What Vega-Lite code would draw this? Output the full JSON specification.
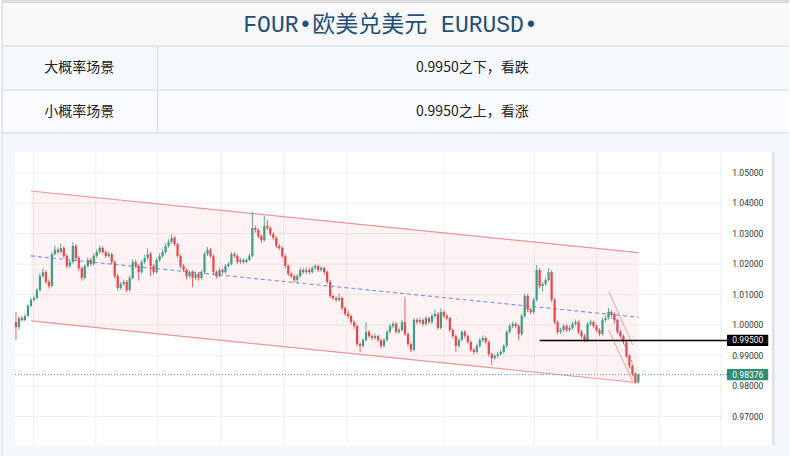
{
  "$schema": "https://vega.github.io/schema/vega-lite/v6.json",
  "width": 790,
  "height": 456,
  "autosize": {"type": "fit", "contains": "padding"},
  "padding": 0,
  "background": "#ffffff",
  "config": {"view": {"stroke": null}, "font": "Roboto"},
  "datasets": {
    "candles": [
      {"i":0,"o":1.0010,"h":1.0043,"l":0.9951,"c":0.9994},
      {"i":1,"o":0.9994,"h":1.0030,"l":0.9985,"c":1.0023},
      {"i":2,"o":1.0023,"h":1.0031,"l":1.0010,"c":1.0017},
      {"i":3,"o":1.0017,"h":1.0036,"l":1.0012,"c":1.0030},
      {"i":4,"o":1.0030,"h":1.0069,"l":1.0026,"c":1.0063},
      {"i":5,"o":1.0063,"h":1.0090,"l":1.0058,"c":1.0083},
      {"i":6,"o":1.0083,"h":1.0097,"l":1.0077,"c":1.0089},
      {"i":7,"o":1.0089,"h":1.0122,"l":1.0084,"c":1.0115},
      {"i":8,"o":1.0115,"h":1.0170,"l":1.0110,"c":1.0161},
      {"i":9,"o":1.0161,"h":1.0186,"l":1.0155,"c":1.0174},
      {"i":10,"o":1.0174,"h":1.0180,"l":1.0135,"c":1.0142},
      {"i":11,"o":1.0142,"h":1.0150,"l":1.0120,"c":1.0128},
      {"i":12,"o":1.0128,"h":1.0240,"l":1.0124,"c":1.0233},
      {"i":13,"o":1.0233,"h":1.0262,"l":1.0228,"c":1.0247},
      {"i":14,"o":1.0247,"h":1.0255,"l":1.0232,"c":1.0240},
      {"i":15,"o":1.0240,"h":1.0268,"l":1.0235,"c":1.0253},
      {"i":16,"o":1.0253,"h":1.0259,"l":1.0220,"c":1.0227},
      {"i":17,"o":1.0227,"h":1.0233,"l":1.0186,"c":1.0194},
      {"i":18,"o":1.0194,"h":1.0215,"l":1.0188,"c":1.0207},
      {"i":19,"o":1.0207,"h":1.0272,"l":1.0202,"c":1.0260},
      {"i":20,"o":1.0260,"h":1.0266,"l":1.0212,"c":1.0220},
      {"i":21,"o":1.0220,"h":1.0226,"l":1.0178,"c":1.0187},
      {"i":22,"o":1.0187,"h":1.0192,"l":1.0146,"c":1.0155},
      {"i":23,"o":1.0155,"h":1.0200,"l":1.0150,"c":1.0194},
      {"i":24,"o":1.0194,"h":1.0222,"l":1.0189,"c":1.0214},
      {"i":25,"o":1.0214,"h":1.0220,"l":1.0194,"c":1.0201},
      {"i":26,"o":1.0201,"h":1.0235,"l":1.0196,"c":1.0227},
      {"i":27,"o":1.0227,"h":1.0248,"l":1.0220,"c":1.0240},
      {"i":28,"o":1.0240,"h":1.0262,"l":1.0234,"c":1.0253},
      {"i":29,"o":1.0253,"h":1.0259,"l":1.0233,"c":1.0240},
      {"i":30,"o":1.0240,"h":1.0246,"l":1.0220,"c":1.0227},
      {"i":31,"o":1.0227,"h":1.0241,"l":1.0221,"c":1.0233},
      {"i":32,"o":1.0233,"h":1.0238,"l":1.0200,"c":1.0207},
      {"i":33,"o":1.0207,"h":1.0212,"l":1.0152,"c":1.0161},
      {"i":34,"o":1.0161,"h":1.0168,"l":1.0114,"c":1.0122},
      {"i":35,"o":1.0122,"h":1.0142,"l":1.0116,"c":1.0135},
      {"i":36,"o":1.0135,"h":1.0150,"l":1.0128,"c":1.0142},
      {"i":37,"o":1.0142,"h":1.0148,"l":1.0108,"c":1.0115},
      {"i":38,"o":1.0115,"h":1.0162,"l":1.0110,"c":1.0155},
      {"i":39,"o":1.0155,"h":1.0216,"l":1.0150,"c":1.0207},
      {"i":40,"o":1.0207,"h":1.0214,"l":1.0187,"c":1.0194},
      {"i":41,"o":1.0194,"h":1.0200,"l":1.0146,"c":1.0174},
      {"i":42,"o":1.0174,"h":1.0214,"l":1.0168,"c":1.0207},
      {"i":43,"o":1.0207,"h":1.0230,"l":1.0201,"c":1.0220},
      {"i":44,"o":1.0220,"h":1.0252,"l":1.0214,"c":1.0233},
      {"i":45,"o":1.0233,"h":1.0240,"l":1.0160,"c":1.0194},
      {"i":46,"o":1.0194,"h":1.0200,"l":1.0166,"c":1.0174},
      {"i":47,"o":1.0174,"h":1.0221,"l":1.0169,"c":1.0214},
      {"i":48,"o":1.0214,"h":1.0236,"l":1.0208,"c":1.0227},
      {"i":49,"o":1.0227,"h":1.0249,"l":1.0220,"c":1.0240},
      {"i":50,"o":1.0240,"h":1.0268,"l":1.0235,"c":1.0260},
      {"i":51,"o":1.0260,"h":1.0282,"l":1.0254,"c":1.0273},
      {"i":52,"o":1.0273,"h":1.0298,"l":1.0268,"c":1.0286},
      {"i":53,"o":1.0286,"h":1.0292,"l":1.0260,"c":1.0266},
      {"i":54,"o":1.0266,"h":1.0271,"l":1.0220,"c":1.0227},
      {"i":55,"o":1.0227,"h":1.0232,"l":1.0185,"c":1.0194},
      {"i":56,"o":1.0194,"h":1.0200,"l":1.0174,"c":1.0181},
      {"i":57,"o":1.0181,"h":1.0186,"l":1.0150,"c":1.0161},
      {"i":58,"o":1.0161,"h":1.0180,"l":1.0155,"c":1.0174},
      {"i":59,"o":1.0174,"h":1.0180,"l":1.0124,"c":1.0155},
      {"i":60,"o":1.0155,"h":1.0176,"l":1.0148,"c":1.0168},
      {"i":61,"o":1.0168,"h":1.0174,"l":1.0146,"c":1.0155},
      {"i":62,"o":1.0155,"h":1.0181,"l":1.0150,"c":1.0174},
      {"i":63,"o":1.0174,"h":1.0240,"l":1.0168,"c":1.0233},
      {"i":64,"o":1.0233,"h":1.0256,"l":1.0227,"c":1.0247},
      {"i":65,"o":1.0247,"h":1.0253,"l":1.0220,"c":1.0227},
      {"i":66,"o":1.0227,"h":1.0232,"l":1.0166,"c":1.0174},
      {"i":67,"o":1.0174,"h":1.0180,"l":1.0153,"c":1.0161},
      {"i":68,"o":1.0161,"h":1.0188,"l":1.0156,"c":1.0181},
      {"i":69,"o":1.0181,"h":1.0187,"l":1.0167,"c":1.0174},
      {"i":70,"o":1.0174,"h":1.0200,"l":1.0169,"c":1.0194},
      {"i":71,"o":1.0194,"h":1.0208,"l":1.0189,"c":1.0201},
      {"i":72,"o":1.0201,"h":1.0240,"l":1.0196,"c":1.0233},
      {"i":73,"o":1.0233,"h":1.0239,"l":1.0220,"c":1.0227},
      {"i":74,"o":1.0227,"h":1.0232,"l":1.0200,"c":1.0207},
      {"i":75,"o":1.0207,"h":1.0221,"l":1.0201,"c":1.0214},
      {"i":76,"o":1.0214,"h":1.0219,"l":1.0202,"c":1.0207},
      {"i":77,"o":1.0207,"h":1.0220,"l":1.0203,"c":1.0214},
      {"i":78,"o":1.0214,"h":1.0234,"l":1.0210,"c":1.0227},
      {"i":79,"o":1.0227,"h":1.0371,"l":1.0222,"c":1.0319},
      {"i":80,"o":1.0319,"h":1.0326,"l":1.0304,"c":1.0312},
      {"i":81,"o":1.0312,"h":1.0317,"l":1.0285,"c":1.0292},
      {"i":82,"o":1.0292,"h":1.0298,"l":1.0270,"c":1.0279},
      {"i":83,"o":1.0279,"h":1.0358,"l":1.0274,"c":1.0325},
      {"i":84,"o":1.0325,"h":1.0345,"l":1.0312,"c":1.0319},
      {"i":85,"o":1.0319,"h":1.0324,"l":1.0292,"c":1.0299},
      {"i":86,"o":1.0299,"h":1.0305,"l":1.0279,"c":1.0286},
      {"i":87,"o":1.0286,"h":1.0291,"l":1.0253,"c":1.0260},
      {"i":88,"o":1.0260,"h":1.0266,"l":1.0246,"c":1.0253},
      {"i":89,"o":1.0253,"h":1.0258,"l":1.0220,"c":1.0227},
      {"i":90,"o":1.0227,"h":1.0232,"l":1.0186,"c":1.0194},
      {"i":91,"o":1.0194,"h":1.0199,"l":1.0160,"c":1.0168},
      {"i":92,"o":1.0168,"h":1.0175,"l":1.0154,"c":1.0161},
      {"i":93,"o":1.0161,"h":1.0166,"l":1.0140,"c":1.0148},
      {"i":94,"o":1.0148,"h":1.0168,"l":1.0142,"c":1.0161},
      {"i":95,"o":1.0161,"h":1.0188,"l":1.0156,"c":1.0181},
      {"i":96,"o":1.0181,"h":1.0187,"l":1.0168,"c":1.0174},
      {"i":97,"o":1.0174,"h":1.0190,"l":1.0168,"c":1.0181},
      {"i":98,"o":1.0181,"h":1.0188,"l":1.0167,"c":1.0174},
      {"i":99,"o":1.0174,"h":1.0195,"l":1.0169,"c":1.0187},
      {"i":100,"o":1.0187,"h":1.0201,"l":1.0181,"c":1.0194},
      {"i":101,"o":1.0194,"h":1.0199,"l":1.0174,"c":1.0181},
      {"i":102,"o":1.0181,"h":1.0194,"l":1.0175,"c":1.0187},
      {"i":103,"o":1.0187,"h":1.0192,"l":1.0167,"c":1.0174},
      {"i":104,"o":1.0174,"h":1.0180,"l":1.0135,"c":1.0142},
      {"i":105,"o":1.0142,"h":1.0148,"l":1.0089,"c":1.0096},
      {"i":106,"o":1.0096,"h":1.0101,"l":1.0082,"c":1.0089},
      {"i":107,"o":1.0089,"h":1.0094,"l":1.0076,"c":1.0083},
      {"i":108,"o":1.0083,"h":1.0104,"l":1.0078,"c":1.0089},
      {"i":109,"o":1.0089,"h":1.0094,"l":1.0049,"c":1.0056},
      {"i":110,"o":1.0056,"h":1.0061,"l":1.0030,"c":1.0037},
      {"i":111,"o":1.0037,"h":1.0048,"l":1.0022,"c":1.0030},
      {"i":112,"o":1.0030,"h":1.0035,"l":1.0002,"c":1.0010},
      {"i":113,"o":1.0010,"h":1.0016,"l":0.9988,"c":0.9997},
      {"i":114,"o":0.9997,"h":1.0002,"l":0.9930,"c":0.9938},
      {"i":115,"o":0.9938,"h":0.9944,"l":0.9912,"c":0.9932},
      {"i":116,"o":0.9932,"h":0.9958,"l":0.9926,"c":0.9951},
      {"i":117,"o":0.9951,"h":1.0010,"l":0.9946,"c":0.9978},
      {"i":118,"o":0.9978,"h":0.9984,"l":0.9958,"c":0.9964},
      {"i":119,"o":0.9964,"h":0.9970,"l":0.9950,"c":0.9958},
      {"i":120,"o":0.9958,"h":0.9972,"l":0.9952,"c":0.9964},
      {"i":121,"o":0.9964,"h":0.9969,"l":0.9944,"c":0.9951},
      {"i":122,"o":0.9951,"h":0.9956,"l":0.9924,"c":0.9932},
      {"i":123,"o":0.9932,"h":0.9958,"l":0.9926,"c":0.9951},
      {"i":124,"o":0.9951,"h":0.9985,"l":0.9946,"c":0.9978},
      {"i":125,"o":0.9978,"h":1.0004,"l":0.9972,"c":0.9997},
      {"i":126,"o":0.9997,"h":1.0012,"l":0.9990,"c":1.0004},
      {"i":127,"o":1.0004,"h":1.0010,"l":0.9971,"c":0.9978},
      {"i":128,"o":0.9978,"h":0.9992,"l":0.9972,"c":0.9984},
      {"i":129,"o":0.9984,"h":1.0018,"l":0.9979,"c":1.0010},
      {"i":130,"o":1.0010,"h":1.0092,"l":0.9964,"c":0.9971},
      {"i":131,"o":0.9971,"h":0.9976,"l":0.9930,"c":0.9938},
      {"i":132,"o":0.9938,"h":0.9944,"l":0.9912,"c":0.9919},
      {"i":133,"o":0.9919,"h":1.0024,"l":0.9914,"c":1.0017},
      {"i":134,"o":1.0017,"h":1.0024,"l":1.0003,"c":1.0010},
      {"i":135,"o":1.0010,"h":1.0025,"l":1.0004,"c":1.0017},
      {"i":136,"o":1.0017,"h":1.0022,"l":0.9997,"c":1.0004},
      {"i":137,"o":1.0004,"h":1.0030,"l":0.9998,"c":1.0023},
      {"i":138,"o":1.0023,"h":1.0028,"l":1.0003,"c":1.0010},
      {"i":139,"o":1.0010,"h":1.0038,"l":1.0004,"c":1.0030},
      {"i":140,"o":1.0030,"h":1.0050,"l":1.0024,"c":1.0037},
      {"i":141,"o":1.0037,"h":1.0043,"l":0.9984,"c":0.9991},
      {"i":142,"o":0.9991,"h":1.0056,"l":0.9986,"c":1.0043},
      {"i":143,"o":1.0043,"h":1.0049,"l":1.0023,"c":1.0030},
      {"i":144,"o":1.0030,"h":1.0036,"l":1.0016,"c":1.0023},
      {"i":145,"o":1.0023,"h":1.0028,"l":0.9977,"c":0.9984},
      {"i":146,"o":0.9984,"h":0.9990,"l":0.9957,"c":0.9964},
      {"i":147,"o":0.9964,"h":0.9970,"l":0.9912,"c":0.9932},
      {"i":148,"o":0.9932,"h":0.9958,"l":0.9926,"c":0.9951},
      {"i":149,"o":0.9951,"h":0.9985,"l":0.9946,"c":0.9978},
      {"i":150,"o":0.9978,"h":0.9984,"l":0.9957,"c":0.9964},
      {"i":151,"o":0.9964,"h":0.9970,"l":0.9938,"c":0.9945},
      {"i":152,"o":0.9945,"h":0.9950,"l":0.9912,"c":0.9919},
      {"i":153,"o":0.9919,"h":0.9925,"l":0.9904,"c":0.9912},
      {"i":154,"o":0.9912,"h":0.9939,"l":0.9906,"c":0.9932},
      {"i":155,"o":0.9932,"h":0.9958,"l":0.9926,"c":0.9951},
      {"i":156,"o":0.9951,"h":0.9966,"l":0.9944,"c":0.9958},
      {"i":157,"o":0.9958,"h":0.9963,"l":0.9938,"c":0.9945},
      {"i":158,"o":0.9945,"h":0.9950,"l":0.9898,"c":0.9905},
      {"i":159,"o":0.9905,"h":0.9910,"l":0.9870,"c":0.9892},
      {"i":160,"o":0.9892,"h":0.9906,"l":0.9886,"c":0.9899},
      {"i":161,"o":0.9899,"h":0.9912,"l":0.9892,"c":0.9905},
      {"i":162,"o":0.9905,"h":0.9920,"l":0.9899,"c":0.9912},
      {"i":163,"o":0.9912,"h":0.9938,"l":0.9906,"c":0.9932},
      {"i":164,"o":0.9932,"h":0.9985,"l":0.9926,"c":0.9978},
      {"i":165,"o":0.9978,"h":1.0004,"l":0.9972,"c":0.9997},
      {"i":166,"o":0.9997,"h":1.0012,"l":0.9990,"c":1.0004},
      {"i":167,"o":1.0004,"h":1.0010,"l":0.9990,"c":0.9997},
      {"i":168,"o":0.9997,"h":1.0003,"l":0.9950,"c":0.9971},
      {"i":169,"o":0.9971,"h":1.0037,"l":0.9966,"c":1.0030},
      {"i":170,"o":1.0030,"h":1.0104,"l":1.0024,"c":1.0096},
      {"i":171,"o":1.0096,"h":1.0102,"l":1.0043,"c":1.0050},
      {"i":172,"o":1.0050,"h":1.0056,"l":1.0036,"c":1.0043},
      {"i":173,"o":1.0043,"h":1.0090,"l":1.0037,"c":1.0083},
      {"i":174,"o":1.0083,"h":1.0197,"l":1.0078,"c":1.0181},
      {"i":175,"o":1.0181,"h":1.0187,"l":1.0120,"c":1.0128},
      {"i":176,"o":1.0128,"h":1.0142,"l":1.0110,"c":1.0135},
      {"i":177,"o":1.0135,"h":1.0156,"l":1.0128,"c":1.0148},
      {"i":178,"o":1.0148,"h":1.0187,"l":1.0142,"c":1.0174},
      {"i":179,"o":1.0174,"h":1.0180,"l":1.0076,"c":1.0083},
      {"i":180,"o":1.0083,"h":1.0088,"l":1.0002,"c":1.0010},
      {"i":181,"o":1.0010,"h":1.0015,"l":0.9970,"c":0.9978},
      {"i":182,"o":0.9978,"h":0.9992,"l":0.9971,"c":0.9984},
      {"i":183,"o":0.9984,"h":1.0004,"l":0.9978,"c":0.9997},
      {"i":184,"o":0.9997,"h":1.0003,"l":0.9977,"c":0.9984},
      {"i":185,"o":0.9984,"h":0.9998,"l":0.9978,"c":0.9991},
      {"i":186,"o":0.9991,"h":1.0012,"l":0.9985,"c":1.0004},
      {"i":187,"o":1.0004,"h":1.0018,"l":0.9998,"c":1.0010},
      {"i":188,"o":1.0010,"h":1.0015,"l":0.9971,"c":0.9978},
      {"i":189,"o":0.9978,"h":0.9984,"l":0.9956,"c":0.9964},
      {"i":190,"o":0.9964,"h":0.9970,"l":0.9944,"c":0.9951},
      {"i":191,"o":0.9951,"h":1.0010,"l":0.9946,"c":1.0004},
      {"i":192,"o":1.0004,"h":1.0018,"l":0.9998,"c":1.0010},
      {"i":193,"o":1.0010,"h":1.0015,"l":0.9990,"c":0.9997},
      {"i":194,"o":0.9997,"h":1.0003,"l":0.9977,"c":0.9984},
      {"i":195,"o":0.9984,"h":0.9990,"l":0.9964,"c":0.9971},
      {"i":196,"o":0.9971,"h":1.0024,"l":0.9966,"c":1.0017},
      {"i":197,"o":1.0017,"h":1.0032,"l":1.0011,"c":1.0023},
      {"i":198,"o":1.0023,"h":1.0056,"l":1.0018,"c":1.0043},
      {"i":199,"o":1.0043,"h":1.0049,"l":1.0030,"c":1.0037},
      {"i":200,"o":1.0037,"h":1.0042,"l":1.0010,"c":1.0017},
      {"i":201,"o":1.0017,"h":1.0022,"l":0.9971,"c":0.9978},
      {"i":202,"o":0.9978,"h":0.9984,"l":0.9957,"c":0.9964},
      {"i":203,"o":0.9964,"h":0.9970,"l":0.9938,"c":0.9945},
      {"i":204,"o":0.9945,"h":0.9950,"l":0.9892,"c":0.9899},
      {"i":205,"o":0.9899,"h":0.9904,"l":0.9858,"c":0.9866},
      {"i":206,"o":0.9866,"h":0.9872,"l":0.9832,"c":0.9840},
      {"i":207,"o":0.9840,"h":0.9846,"l":0.9807,"c":0.9814},
      {"i":208,"o":0.9814,"h":0.9842,"l":0.9809,"c":0.98376}
    ],
    "channel": [
      {"i":5,"up":1.0440,"mid":1.0227,"lo":1.0014},
      {"i":208,"up":1.0238,"mid":1.0026,"lo":0.9811}
    ],
    "steep": [
      {"i":198.1,"up":1.0110,"mid":1.0047,"lo":0.9984},
      {"i":206.1,"up":0.9935,"mid":0.9875,"lo":0.9815}
    ],
    "yticks": [
      {"v":1.05,"t":"1.05000"},{"v":1.04,"t":"1.04000"},{"v":1.03,"t":"1.03000"},
      {"v":1.02,"t":"1.02000"},{"v":1.01,"t":"1.01000"},{"v":1.00,"t":"1.00000"},
      {"v":0.99,"t":"0.99000"},{"v":0.98,"t":"0.98000"},{"v":0.97,"t":"0.97000"}
    ],
    "xticks": [
      {"i":5.9},{"i":26.67},{"i":47.43},{"i":68.43},{"i":89.43},{"i":110.57},
      {"i":143.1},{"i":173.23},{"i":194.1},{"i":215.1},{"i":235.57}
    ]
  },
  "layer": [
    {
      "layer": [
        {
          "data": {"values": [{}]},
          "mark": {"type": "rect", "fill": "#f4f7fc"},
          "encoding": {
            "x": {"datum": 0, "type": "quantitative", "scale": {"domain": [0, 790], "nice": false, "zero": false, "padding": 0}, "axis": null},
            "x2": {"datum": 790},
            "y": {"datum": 133, "type": "quantitative", "scale": {"domain": [0, 456], "reverse": true, "nice": false, "zero": false, "padding": 0}, "axis": null},
            "y2": {"datum": 456}
          }
        },
        {
          "data": {"values": [{}]},
          "mark": {"type": "rect", "fill": "#f8f8f8"},
          "encoding": {"x": {"datum": 0}, "x2": {"datum": 790}, "y": {"datum": 3}, "y2": {"datum": 46}}
        },
        {
          "data": {"values": [{}]},
          "mark": {"type": "rect", "fill": "#f6f9fd"},
          "encoding": {"x": {"datum": 0}, "x2": {"datum": 790}, "y": {"datum": 46}, "y2": {"datum": 90}}
        },
        {
          "data": {"values": [{}]},
          "mark": {"type": "rect", "fill": "#f9fbfe"},
          "encoding": {"x": {"datum": 0}, "x2": {"datum": 790}, "y": {"datum": 90}, "y2": {"datum": 133}}
        },
        {
          "data": {"values": [{}]},
          "mark": {"type": "rect", "fill": "#dcdcdc"},
          "encoding": {"x": {"datum": 0}, "x2": {"datum": 790}, "y": {"datum": 0}, "y2": {"datum": 3}}
        },
        {
          "data": {"values": [{}]},
          "mark": {"type": "rect", "fill": "#e2e5ea"},
          "encoding": {"x": {"datum": 0}, "x2": {"datum": 2}, "y": {"datum": 0}, "y2": {"datum": 456}}
        },
        {
          "data": {"values": [{}]},
          "mark": {"type": "rect", "fill": "#ffffff"},
          "encoding": {"x": {"datum": 14}, "x2": {"datum": 773}, "y": {"datum": 152}, "y2": {"datum": 445}}
        },
        {
          "data": {"values": [{}]},
          "mark": {"type": "rect", "fill": "#dde2e8"},
          "encoding": {"x": {"datum": 773}, "x2": {"datum": 775.5}, "y": {"datum": 152}, "y2": {"datum": 445}}
        },
        {
          "data": {"values": [{}]},
          "mark": {"type": "rule", "stroke": "#dfe3e8", "strokeWidth": 1.5},
          "encoding": {"x": {"datum": 0}, "x2": {"datum": 790}, "y": {"datum": 46}}
        },
        {
          "data": {"values": [{}]},
          "mark": {"type": "rule", "stroke": "#dfe3e8", "strokeWidth": 1.5},
          "encoding": {"x": {"datum": 0}, "x2": {"datum": 790}, "y": {"datum": 90}}
        },
        {
          "data": {"values": [{}]},
          "mark": {"type": "rule", "stroke": "#dfe3e8", "strokeWidth": 1.5},
          "encoding": {"x": {"datum": 0}, "x2": {"datum": 790}, "y": {"datum": 133}}
        },
        {
          "data": {"values": [{}]},
          "mark": {"type": "rule", "stroke": "#dfe3e8", "strokeWidth": 1.5},
          "encoding": {"x": {"datum": 157}, "y": {"datum": 46}, "y2": {"datum": 133}}
        },
        {
          "data": {"values": [{}]},
          "mark": {"type": "text", "font": "Liberation Mono, Noto Sans CJK SC", "fontSize": 23, "fill": "#1f4f7b", "align": "center", "baseline": "middle"},
          "encoding": {"x": {"datum": 390.5}, "y": {"datum": 25}, "text": {"value": "FOUR•欧美兑美元 EURUSD•"}}
        },
        {
          "data": {"values": [{}]},
          "mark": {"type": "text", "font": "Noto Sans CJK SC", "fontSize": 14, "fill": "#222222", "align": "center", "baseline": "middle"},
          "encoding": {"x": {"datum": 78.5}, "y": {"datum": 68}, "text": {"value": "大概率场景"}}
        },
        {
          "data": {"values": [{}]},
          "mark": {"type": "text", "font": "Noto Sans CJK SC", "fontSize": 14, "fill": "#222222", "align": "center", "baseline": "middle"},
          "encoding": {"x": {"datum": 472.5}, "y": {"datum": 68}, "text": {"value": "0.9950之下，看跌"}}
        },
        {
          "data": {"values": [{}]},
          "mark": {"type": "text", "font": "Noto Sans CJK SC", "fontSize": 14, "fill": "#222222", "align": "center", "baseline": "middle"},
          "encoding": {"x": {"datum": 78.5}, "y": {"datum": 111.5}, "text": {"value": "小概率场景"}}
        },
        {
          "data": {"values": [{}]},
          "mark": {"type": "text", "font": "Noto Sans CJK SC", "fontSize": 14, "fill": "#222222", "align": "center", "baseline": "middle"},
          "encoding": {"x": {"datum": 472.5}, "y": {"datum": 111.5}, "text": {"value": "0.9950之上，看涨"}}
        }
      ]
    },
    {
      "layer": [
        {
          "data": {"name": "xticks"},
          "mark": {"type": "rule", "stroke": "#efefef", "strokeWidth": 1},
          "encoding": {
            "x": {"field": "i", "type": "quantitative", "scale": {"domain": [-5, 258.3333], "nice": false, "zero": false, "padding": 0}, "axis": null},
            "y": {"datum": 1.0568, "type": "quantitative", "scale": {"domain": [0.95708, 1.10665], "nice": false, "zero": false, "padding": 0}, "axis": null},
            "y2": {"datum": 0.9607}
          }
        },
        {
          "data": {"name": "yticks"},
          "mark": {"type": "rule", "stroke": "#efefef", "strokeWidth": 1},
          "encoding": {"x": {"datum": -0.33}, "x2": {"datum": 236}, "y": {"field": "v", "type": "quantitative"}}
        },
        {
          "data": {"name": "channel"},
          "mark": {"type": "area", "color": "#f23645", "opacity": 0.06},
          "encoding": {"x": {"field": "i", "type": "quantitative"}, "y": {"field": "up", "type": "quantitative"}, "y2": {"field": "lo"}}
        },
        {
          "data": {"name": "channel"},
          "mark": {"type": "line", "color": "#f19494", "strokeWidth": 1.2},
          "encoding": {"x": {"field": "i", "type": "quantitative"}, "y": {"field": "up", "type": "quantitative"}}
        },
        {
          "data": {"name": "channel"},
          "mark": {"type": "line", "color": "#f19494", "strokeWidth": 1.2},
          "encoding": {"x": {"field": "i", "type": "quantitative"}, "y": {"field": "lo", "type": "quantitative"}}
        },
        {
          "data": {"name": "channel"},
          "mark": {"type": "line", "color": "#7d96f2", "strokeWidth": 1.2, "strokeDash": [4, 3]},
          "encoding": {"x": {"field": "i", "type": "quantitative"}, "y": {"field": "mid", "type": "quantitative"}}
        },
        {
          "data": {"name": "steep"},
          "mark": {"type": "line", "color": "#f3a0a0", "strokeWidth": 1},
          "encoding": {"x": {"field": "i", "type": "quantitative"}, "y": {"field": "up", "type": "quantitative"}}
        },
        {
          "data": {"name": "steep"},
          "mark": {"type": "line", "color": "#f3a0a0", "strokeWidth": 1},
          "encoding": {"x": {"field": "i", "type": "quantitative"}, "y": {"field": "lo", "type": "quantitative"}}
        },
        {
          "data": {"name": "steep"},
          "mark": {"type": "line", "color": "#7d96f2", "strokeWidth": 1, "strokeDash": [3, 3]},
          "encoding": {"x": {"field": "i", "type": "quantitative"}, "y": {"field": "mid", "type": "quantitative"}}
        },
        {
          "data": {"name": "candles"},
          "mark": {"type": "rule", "strokeWidth": 1, "opacity": 0.85},
          "encoding": {
            "x": {"field": "i", "type": "quantitative"},
            "y": {"field": "l", "type": "quantitative"},
            "y2": {"field": "h"},
            "color": {"condition": {"test": "datum.c >= datum.o", "value": "#3c9e84"}, "value": "#e8474a"}
          }
        },
        {
          "data": {"name": "candles"},
          "mark": {"type": "bar", "size": 2.2},
          "encoding": {
            "x": {"field": "i", "type": "quantitative"},
            "y": {"field": "o", "type": "quantitative"},
            "y2": {"field": "c"},
            "color": {"condition": {"test": "datum.c >= datum.o", "value": "#3c9e84"}, "value": "#e8474a"}
          }
        },
        {
          "data": {"values": [{}]},
          "mark": {"type": "rule", "stroke": "#4aa58c", "strokeWidth": 1, "strokeDash": [1, 2]},
          "encoding": {"x": {"datum": -0.33}, "x2": {"datum": 237.6}, "y": {"datum": 0.98376}}
        },
        {
          "data": {"values": [{}]},
          "mark": {"type": "rule", "stroke": "#000000", "strokeWidth": 1.5},
          "encoding": {"x": {"datum": 175}, "x2": {"datum": 237.6}, "y": {"datum": 0.995}}
        },
        {
          "data": {"name": "yticks"},
          "mark": {"type": "text", "font": "Roboto", "fontSize": 8.5, "fill": "#333333", "align": "left", "baseline": "middle"},
          "encoding": {"x": {"datum": 239.4}, "y": {"field": "v", "type": "quantitative"}, "text": {"field": "t"}}
        },
        {
          "data": {"values": [{}]},
          "mark": {"type": "rect", "fill": "#000000", "cornerRadius": 1},
          "encoding": {"x": {"datum": 237.6}, "x2": {"datum": 251.4}, "y": {"datum": 0.99318}, "y2": {"datum": 0.99682}}
        },
        {
          "data": {"values": [{}]},
          "mark": {"type": "text", "font": "Roboto", "fontSize": 8.5, "fill": "#ffffff", "align": "left", "baseline": "middle"},
          "encoding": {"x": {"datum": 239.4}, "y": {"datum": 0.995}, "text": {"value": "0.99500"}}
        },
        {
          "data": {"values": [{}]},
          "mark": {"type": "rect", "fill": "#2f8d75", "cornerRadius": 1},
          "encoding": {"x": {"datum": 237.6}, "x2": {"datum": 251.4}, "y": {"datum": 0.98194}, "y2": {"datum": 0.98558}}
        },
        {
          "data": {"values": [{}]},
          "mark": {"type": "text", "font": "Roboto", "fontSize": 8.5, "fill": "#ffffff", "align": "left", "baseline": "middle"},
          "encoding": {"x": {"datum": 239.4}, "y": {"datum": 0.98376}, "text": {"value": "0.98376"}}
        }
      ]
    }
  ],
  "resolve": {"scale": {"x": "independent", "y": "independent"}}
}
